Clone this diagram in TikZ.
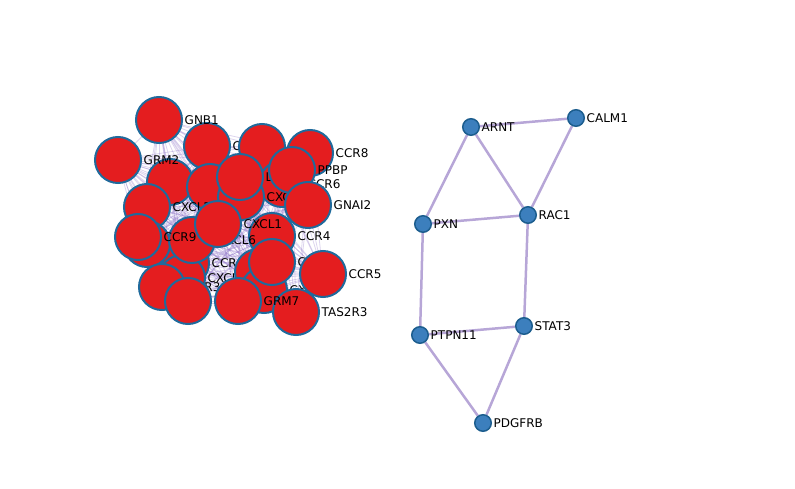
\documentclass[tikz,border=0pt]{standalone}
\usepackage{fontspec}
\setmainfont{DejaVu Sans}
\pgfdeclarelayer{background}
\pgfsetlayers{background,main}

\definecolor{genered}{HTML}{E41D1F}
\definecolor{geneline}{HTML}{1F6A9C}
\definecolor{protblue}{HTML}{3C7FBD}
\definecolor{protline}{HTML}{1C5D8E}
\definecolor{edgelav}{HTML}{B7A6D7}
\definecolor{edgepurple}{HTML}{8C70C6}

\begin{document}
\begin{tikzpicture}[x=1pt,y=-1pt,
  gene/.style={circle,draw=geneline,fill=genered,line width=2pt,minimum size=46pt,inner sep=0pt},
  prot/.style={circle,draw=protline,fill=protblue,line width=1.5pt,minimum size=16.5pt,inner sep=0pt},
  lbl/.style={font=\fontsize{12}{14}\selectfont,inner sep=0pt,text=black},
  label distance=1.5pt,
  protedge/.style={draw=edgelav,line width=2.5pt},
  clusteredge/.style={draw=edgepurple,line width=0.8pt,opacity=0.3}]
%set diagram at 795 x 489
\path[use as bounding box] (0,0) rectangle (795,489);

%Cluster: nodes lying far back
\node[gene,label={[lbl]right:CCR1}] (ccrone) at (186,263) {};
\node[gene,label={[lbl]right:CXCL2}] (cxcltwo) at (182,278) {};
\node[gene] (ccrten) at (258,272) {};
\node[gene,label={[lbl]right:CXCR4}] (cxcrfour) at (264,290) {};
\node[gene,label={[lbl]right:CCR4}] (ccrfour) at (272,236) {};
\node[gene,label={[lbl]right:CCR7}] (ccrseven) at (272,262) {};

%Cluster: upper nodes
\node[gene,label={[lbl]right:CXCL3}] (cxclthree) at (207,146) {};
\node[gene] (gngtwo) at (262,147) {};
\node[gene,label={[lbl]right:CCR8}] (ccreight) at (310,153) {};
\node[gene,label={[lbl]right:GNB1}] (gnbone) at (159,120) {};
\node[gene] (cxcrone) at (170,182) {};
\node[gene] (cxcrtwo) at (210,187) {};
\node[gene,label={[lbl]right:CCR6}] (ccrsix) at (282,184) {};
\node[gene,label={[lbl]right:CXCL5}] (cxclfive) at (147,207) {};
\node[gene,label={[lbl]right:GRM2}] (grmtwo) at (118,160) {};
\node[gene,label={[lbl]right:CXCL12}] (cxcltwelve) at (241,197) {};
\node[gene,label={[lbl]right:LPAR1}] (lpar) at (240,177) {};
\node[gene,label={[lbl]right:PPBP}] (ppbp) at (292,170) {};
\node[gene,label={[lbl]right:GNAI2}] (gnaitwo) at (308,205) {};

%Cluster: middle nodes
\node[gene] (ccrtwo) at (147,244) {};
\node[gene,label={[lbl]right:CXCL6}] (cxclsix) at (192,240) {};
\node[gene,label={[lbl]right:CCR9}] (ccrnine) at (138,237) {};
\node[gene,label={[lbl]right:CXCL1}] (cxclone) at (218,224) {};

%Cluster: lower nodes
\node[gene,label={[lbl]right:CCR3}] (ccrthree) at (162,287) {};
\node[gene] (cclfive) at (188,301) {};
\node[gene,label={[lbl]right:TAS2R3}] (tastwo) at (296,312) {};
\node[gene,label={[lbl]right:GRM7}] (grmseven) at (238,301) {};
\node[gene,label={[lbl]right:CCR5}] (ccrfive) at (323,274) {};

%Cluster: edges
\def\clusterlist{ccrone,cxcltwo,ccrten,cxcrfour,ccrfour,ccrseven,cxclthree,gngtwo,ccreight,gnbone,cxcrone,cxcrtwo,ccrsix,cxclfive,grmtwo,cxcltwelve,lpar,ppbp,gnaitwo,ccrtwo,cxclsix,ccrnine,cxclone,ccrthree,cclfive,tastwo,grmseven,ccrfive}
\begin{pgfonlayer}{background}
\foreach \a [count=\i] in \clusterlist {
  \foreach \b [count=\j] in \clusterlist {
    \ifnum\i<\j \draw[clusteredge] (\a.center) -- (\b.center); \fi
  }
}
\end{pgfonlayer}

%Right network
\node[prot,label={[lbl]right:ARNT}] (arnt) at (471,127) {};
\node[prot,label={[lbl]right:CALM1}] (calm) at (576,118) {};
\node[prot,label={[lbl]right:PXN}] (pxn) at (423,224) {};
\node[prot,label={[lbl]right:RAC1}] (rac) at (528,215) {};
\node[prot,label={[lbl]right:STAT3}] (stat) at (524,326) {};
\node[prot,label={[lbl]right:PTPN11}] (ptpn) at (420,335) {};
\node[prot,label={[lbl]right:PDGFRB}] (pdgfrb) at (483,423) {};

\begin{pgfonlayer}{background}
\draw[protedge] (arnt) -- (calm);
\draw[protedge] (arnt) -- (pxn);
\draw[protedge] (arnt) -- (rac);
\draw[protedge] (calm) -- (rac);
\draw[protedge] (pxn) -- (rac);
\draw[protedge] (pxn) -- (ptpn);
\draw[protedge] (rac) -- (stat);
\draw[protedge] (ptpn) -- (stat);
\draw[protedge] (ptpn) -- (pdgfrb);
\draw[protedge] (stat) -- (pdgfrb);
\end{pgfonlayer}

\end{tikzpicture}
\end{document}
